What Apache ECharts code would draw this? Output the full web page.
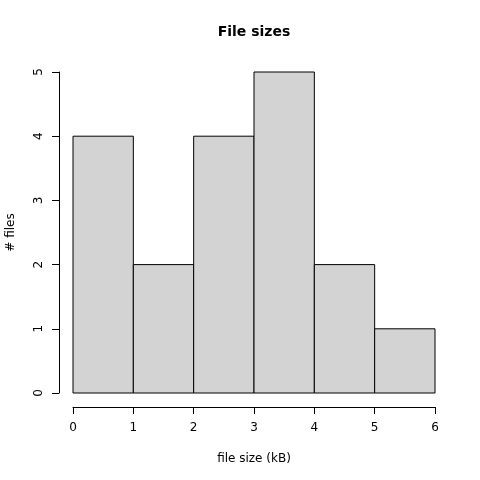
<!DOCTYPE html>
<html><head><meta charset="utf-8">
<script src="https://cdn.jsdelivr.net/npm/echarts@6/dist/echarts.min.js"></script>
<style>html,body{margin:0;padding:0;background:#fff}#c{width:480px;height:480px}</style>
</head><body><div id="c"></div>
<script>
const binStarts = [0, 1, 2, 3, 4, 5];
const binEnds = [1, 2, 3, 4, 5, 6];
const counts = [4, 2, 4, 5, 2, 1];
const xTicks = [0, 1, 2, 3, 4, 5, 6];
const yTicks = [0, 1, 2, 3, 4, 5];

const data = binStarts.map((s, i) => [s, binEnds[i], counts[i]]);
const chart = echarts.init(document.getElementById('c'), null, {renderer: 'canvas'});
const font = 'DejaVu Sans';
chart.setOption({
  animation: false,
  backgroundColor: '#fff',
  title: {text: 'File sizes', left: 249, top: 20, textAlign: 'center',
    textStyle: {fontFamily: font, fontSize: 14, fontWeight: 'bold', color: '#000'}},
  grid: {left: 73, right: 45, top: 72, bottom: 87, containLabel: false, outerBoundsMode: 'none'},
  xAxis: {
    type: 'value', min: 0, max: 6, interval: 1, offset: 14,
    name: 'file size (kB)', nameLocation: 'middle', nameGap: 46,
    nameTextStyle: {fontFamily: font, fontSize: 12, color: '#000'},
    axisLine: {show: true, onZero: false, lineStyle: {color: '#000', width: 1}},
    axisTick: {show: true, length: 7, lineStyle: {color: '#000'}},
    axisLabel: {fontFamily: font, fontSize: 12, color: '#000', margin: 15},
    splitLine: {show: false}
  },
  yAxis: {
    type: 'value', min: 0, max: 5, interval: 1, offset: 14,
    name: '# files', nameLocation: 'middle', nameGap: 42, nameRotate: 90,
    nameTextStyle: {fontFamily: font, fontSize: 12, color: '#000'},
    axisLine: {show: true, onZero: false, lineStyle: {color: '#000', width: 1}},
    axisTick: {show: true, length: 7, lineStyle: {color: '#000'}},
    axisLabel: {fontFamily: font, fontSize: 12, color: '#000', rotate: 90, margin: 14},
    splitLine: {show: false}
  },
  series: [{
    type: 'custom',
    data: data,
    encode: {x: [0, 1], y: 2},
    renderItem: function (params, api) {
      const p0 = api.coord([api.value(0), 0]);
      const p1 = api.coord([api.value(1), api.value(2)]);
      return {
        type: 'rect',
        shape: {x: p0[0], y: p1[1], width: p1[0] - p0[0], height: p0[1] - p1[1]},
        style: {fill: '#d3d3d3', stroke: '#000', lineWidth: 1}
      };
    }
  }]
});
</script></body></html>
